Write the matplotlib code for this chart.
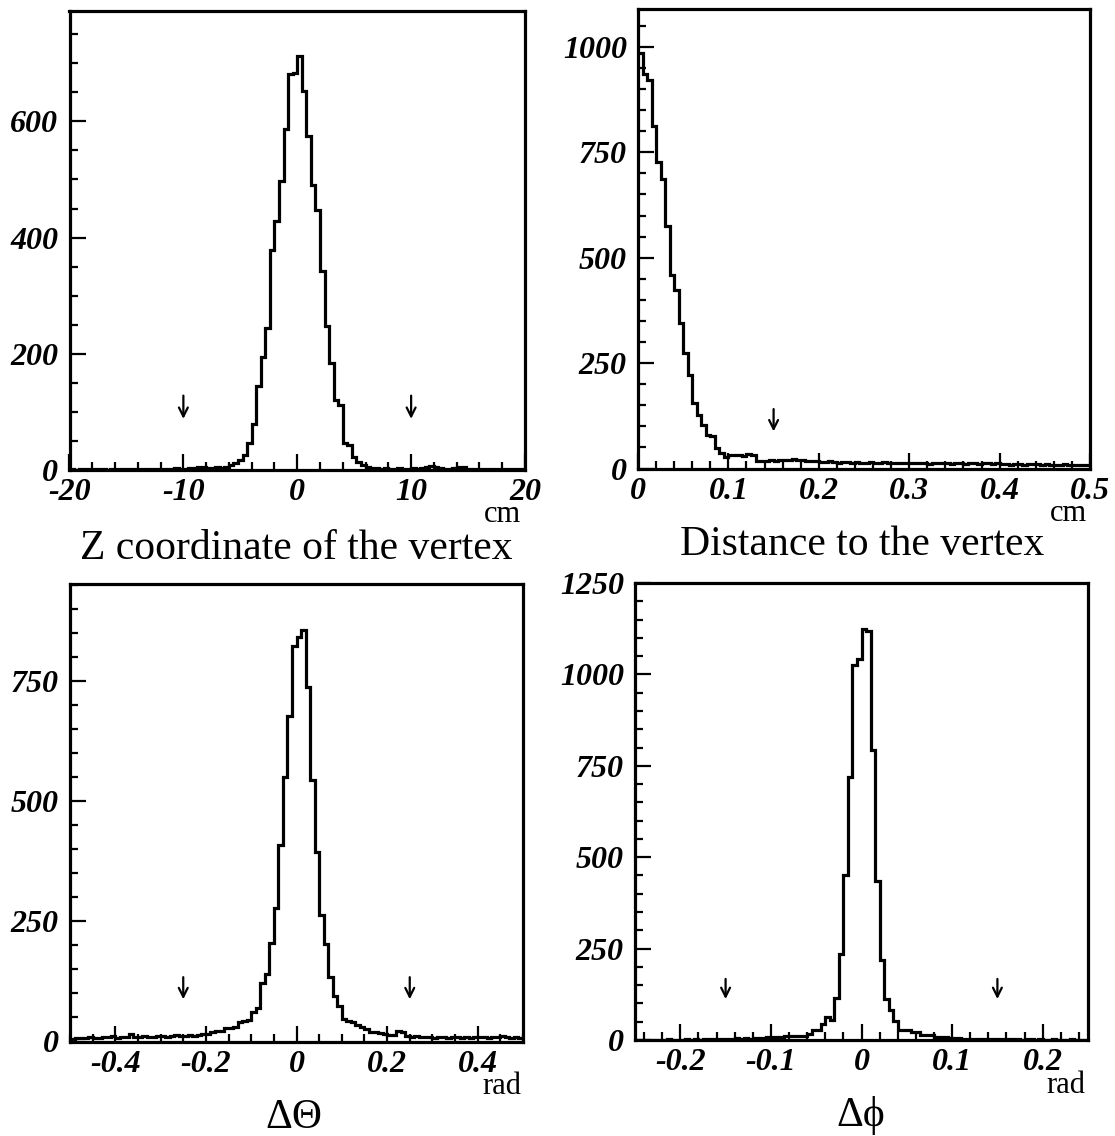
import numpy as np
import matplotlib
matplotlib.use("Agg")
import matplotlib.pyplot as plt
from matplotlib.ticker import MultipleLocator, FixedLocator, FixedFormatter

# ---------------- data ----------------
# Z coordinate of the vertex: 100 bins from -20 to 20 cm
z_range = (-20.0, 20.0)
z_counts = [1, 0, 1, 2, 1, 1, 2, 1, 0, 1, 2, 1, 1, 2, 1, 2, 1, 2, 2, 1,
            2, 1, 2, 3, 2, 2, 3, 4,
            5, 6, 4, 3, 5, 4, 6, 8,
            12, 18, 26, 46, 80, 144, 195, 244, 379, 428, 497, 587, 682, 684,
            713, 652, 575, 491, 448, 342, 247, 184, 121, 112, 46, 43, 23, 14, 8,
            6, 4, 3, 2, 3, 2, 2, 3, 2, 2, 3, 2, 3, 6, 7, 5, 3, 2, 2, 4, 6, 5, 2, 2,
            2, 1, 2, 1, 2, 1, 2, 1, 1, 1, 1]
z_cuts = [-10, 10]

# Distance to the vertex: 100 bins from 0 to 0.5 cm
d_range = (0.0, 0.5)
d_counts = [985, 935, 922, 813, 726, 686, 575, 460, 424, 345, 274, 222, 155, 127, 103, 80, 77, 48, 36, 28,
            32, 32, 32, 30, 35, 33,
            18, 17, 18, 19, 18, 20, 19, 21, 22, 20, 19, 18, 17, 18,
            16, 15, 17, 16, 14, 15, 16, 14, 15, 13, 14, 15, 13, 14, 15, 13, 14, 12, 13, 14,
            12, 13, 14, 12, 11, 13, 12, 14, 13, 11, 12, 13, 11, 12, 12, 11, 13, 12, 11, 12,
            10, 11, 9, 10, 11, 9, 10, 11, 10, 9, 10, 9, 8, 9, 10, 9, 9, 8, 9, 9]
d_cuts = [0.15]

# Delta Theta: 100 bins from -0.5 to 0.5 rad
th_range = (-0.5, 0.5)
th_counts = [6, 7, 8, 7, 9, 8, 8, 10, 9, 11, 8, 9, 10, 16, 9, 10, 11, 10, 9, 12,
             11, 10, 12, 13, 11, 12, 14, 12, 13, 15,
             15, 20, 21, 22, 28, 29, 30, 40, 42, 44, 62, 69, 121, 141, 205, 279, 410, 551, 678, 823,
             842, 858, 739, 545, 394, 264, 203, 134, 95, 73, 46, 42, 40, 34, 30, 27, 20, 19, 18, 15,
             14, 13, 22, 20,
             11, 10, 11, 9, 10, 9, 8, 10, 9, 8, 9, 10, 8, 9, 8, 9, 10, 9, 8, 9, 10, 12, 9, 8, 9, 8]
th_cuts = [-0.25, 0.25]

# Delta phi: 100 bins from -0.25 to 0.25 rad
ph_range = (-0.25, 0.25)
ph_counts = [1, 0, 1, 1, 0, 1, 1, 2, 1, 1, 1, 2, 1, 2, 1, 2, 2, 2, 3, 4, 3, 4, 5, 4, 5,
             4, 5, 5, 6, 7, 9, 9, 9, 10, 11, 11, 11, 12, 16, 27, 28, 44, 64, 55, 114, 235, 450, 718, 1026, 1043,
             1124, 1119, 792, 436, 219, 111, 81, 51, 28, 28, 28, 22, 21, 15, 14, 13, 9, 8, 8,
             6, 5, 5, 4, 4, 3, 3, 4, 3, 2, 3, 2, 2, 3, 2, 2, 1, 2, 2, 1, 2, 1, 1, 2, 1, 1, 1, 2, 1, 1, 1]
ph_cuts = [-0.15, 0.15]

# tick labels
z_xticks = [-20, -10, 0, 10, 20]
z_xlabels = ["-20", "-10", "0", "10", "20"]
z_yticks = [0, 200, 400, 600]
d_xticks = [0, 0.1, 0.2, 0.3, 0.4, 0.5]
d_xlabels = ["0", "0.1", "0.2", "0.3", "0.4", "0.5"]
d_yticks = [0, 250, 500, 750, 1000]
th_xticks = [-0.4, -0.2, 0, 0.2, 0.4]
th_xlabels = ["-0.4", "-0.2", "0", "0.2", "0.4"]
th_yticks = [0, 250, 500, 750]
ph_xticks = [-0.2, -0.1, 0, 0.1, 0.2]
ph_xlabels = ["-0.2", "-0.1", "0", "0.1", "0.2"]
ph_yticks = [0, 250, 500, 750, 1000, 1250]

# ---------------- style ----------------
plt.rcParams['font.family'] = ['Liberation Serif', 'DejaVu Serif']
plt.rcParams['axes.unicode_minus'] = False

W, H = 1115, 1136
fig = plt.figure(figsize=(W / 100, H / 100), dpi=100)


def px_rect(left, top, right, bottom):
    return [left / W, 1 - bottom / H, (right - left) / W, (bottom - top) / H]


panels = [
    dict(rect=px_rect(69.5, 11, 525, 470), rng=z_range, counts=z_counts, ylim=790,
         xt=z_xticks, xl=z_xlabels, xminor=2, yt=z_yticks, yminor=50,
         cuts=z_cuts, arr=(128, 88), unit="cm", unit_pos=(521, 522),
         title="Z coordinate of the vertex", title_pos=(296, 559)),
    dict(rect=px_rect(638, 9, 1090, 468.5), rng=d_range, counts=d_counts, ylim=1090,
         xt=d_xticks, xl=d_xlabels, xminor=0.02, yt=d_yticks, yminor=50,
         cuts=d_cuts, arr=(141, 88), unit="cm", unit_pos=(1087, 521),
         title="Distance to the vertex", title_pos=(862, 555)),
    dict(rect=px_rect(70, 584, 523, 1041.5), rng=th_range, counts=th_counts, ylim=953,
         xt=th_xticks, xl=th_xlabels, xminor=0.05, yt=th_yticks, yminor=50,
         cuts=th_cuts, arr=(134, 88), unit="rad", unit_pos=(521, 1094),
         title="\u0394\u0398", title_pos=(294, 1128)),
    dict(rect=px_rect(635, 583, 1088, 1040), rng=ph_range, counts=ph_counts, ylim=1250,
         xt=ph_xticks, xl=ph_xlabels, xminor=0.02, yt=ph_yticks, yminor=50,
         cuts=ph_cuts, arr=(167, 112), unit="rad", unit_pos=(1085, 1093),
         title="\u0394\u03d5", title_pos=(861, 1126)),
]

for p in panels:
    ax = fig.add_axes(p["rect"])
    counts = np.asarray(p["counts"], dtype=float)
    edges = np.linspace(p["rng"][0], p["rng"][1], len(counts) + 1)
    ax.stairs(counts, edges, color="black", lw=2.3, baseline=None)
    ax.set_xlim(*p["rng"])
    ax.set_ylim(0, p["ylim"])

    ax.xaxis.set_major_locator(FixedLocator(p["xt"]))
    ax.xaxis.set_major_formatter(FixedFormatter(p["xl"]))
    ax.xaxis.set_minor_locator(MultipleLocator(p["xminor"]))
    ax.yaxis.set_major_locator(FixedLocator(p["yt"]))
    ax.yaxis.set_major_formatter(FixedFormatter([str(v) for v in p["yt"]]))
    ax.yaxis.set_minor_locator(MultipleLocator(p["yminor"]))

    ax.tick_params(which="both", direction="in", top=False, right=False, color="black")
    ax.tick_params(which="major", length=11.5, width=1.6)
    ax.tick_params(which="minor", length=6, width=1.6)
    ax.tick_params(axis="x", which="major", pad=6)
    ax.tick_params(axis="y", which="major", pad=8)
    for lbl in ax.get_xticklabels() + ax.get_yticklabels():
        lbl.set_fontsize(23)
        lbl.set_fontstyle("italic")
        lbl.set_fontweight("bold")

    for s in ax.spines.values():
        s.set_linewidth(2.3)

    for c in p["cuts"]:
        ax.annotate("", xy=(c, p["arr"][1]), xytext=(c, p["arr"][0]),
                    arrowprops=dict(arrowstyle="->", lw=1.6, color="black",
                                    mutation_scale=16, shrinkA=0, shrinkB=0))

    ux, uy = p["unit_pos"]
    fig.text(ux / W, 1 - uy / H, p["unit"], ha="right", va="baseline", fontsize=22)
    tx, ty = p["title_pos"]
    fig.text(tx / W, 1 - ty / H, p["title"], ha="center", va="baseline", fontsize=30)

fig.savefig("out.png", dpi=100)
